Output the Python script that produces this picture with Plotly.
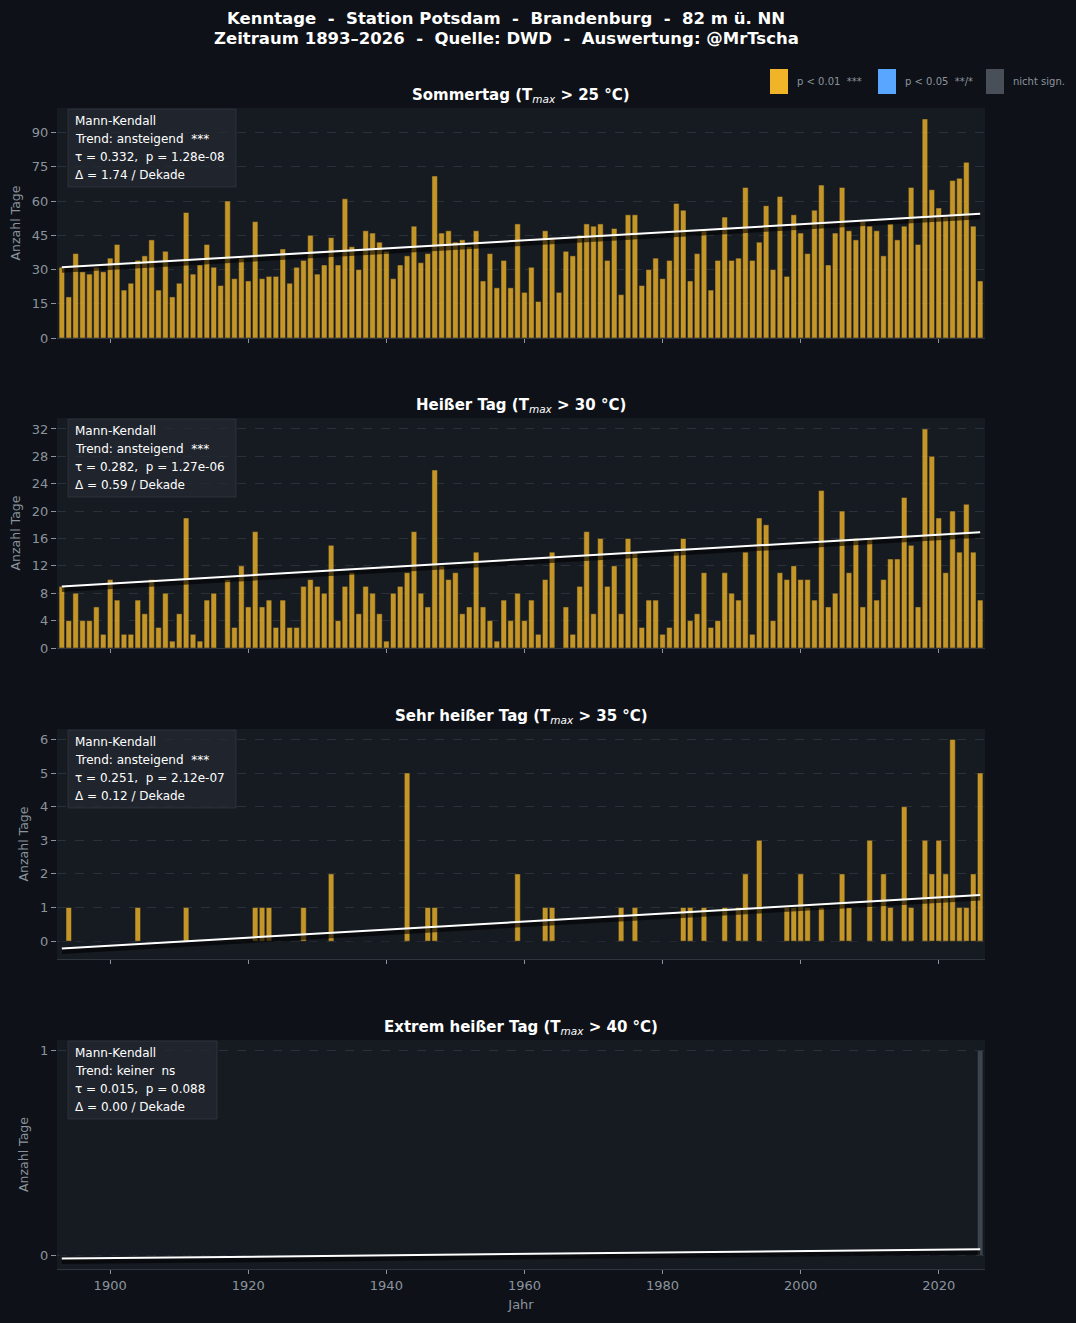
import numpy as np
import plotly.graph_objects as go

# ---------------- data ----------------
years = list(range(1893, 2027))

sommertag = [
    31, 18, 37, 29, 28, 31, 29, 35, 41, 21,
    24, 34, 36, 43, 21, 38, 18, 24, 55, 28,
    32, 41, 31, 23, 60, 26, 35, 25, 51, 26,
    27, 27, 39, 24, 31, 34, 45, 28, 32, 44,
    32, 61, 40, 30, 47, 46, 42, 38, 26, 32,
    36, 49, 33, 37, 71, 46, 47, 42, 43, 40,
    47, 25, 37, 22, 34, 22, 50, 20, 31, 16,
    47, 44, 20, 38, 36, 45, 50, 49, 50, 34,
    48, 19, 54, 54, 23, 30, 35, 26, 34, 59,
    56, 25, 37, 47, 21, 34, 53, 34, 35, 66,
    34, 42, 58, 30, 62, 27, 54, 46, 37, 56,
    67, 32, 46, 66, 47, 43, 51, 49, 47, 36,
    50, 43, 49, 66, 41, 96, 65, 57, 53, 69,
    70, 77, 49, 25,
]

heisser_tag = [
    9, 4, 8, 4, 4, 6, 2, 10, 7, 2,
    2, 7, 5, 10, 3, 8, 1, 5, 19, 2,
    1, 7, 8, 0, 10, 3, 12, 6, 17, 6,
    7, 3, 7, 3, 3, 9, 10, 9, 8, 15,
    4, 9, 11, 5, 9, 8, 5, 1, 8, 9,
    11, 17, 8, 6, 26, 12, 10, 11, 5, 6,
    14, 6, 4, 1, 7, 4, 8, 4, 7, 2,
    10, 14, 0, 6, 2, 9, 17, 5, 16, 9,
    12, 5, 16, 14, 3, 7, 7, 2, 3, 14,
    16, 4, 5, 11, 3, 4, 11, 8, 7, 14,
    2, 19, 18, 4, 11, 10, 12, 10, 10, 7,
    23, 6, 8, 20, 11, 16, 6, 16, 7, 10,
    13, 13, 22, 15, 6, 32, 28, 19, 11, 20,
    14, 21, 14, 7,
]

sehr_heisser_tag = [
    0, 1, 0, 0, 0, 0, 0, 0, 0, 0,
    0, 1, 0, 0, 0, 0, 0, 0, 1, 0,
    0, 0, 0, 0, 0, 0, 0, 0, 1, 1,
    1, 0, 0, 0, 0, 1, 0, 0, 0, 2,
    0, 0, 0, 0, 0, 0, 0, 0, 0, 0,
    5, 0, 0, 1, 1, 0, 0, 0, 0, 0,
    0, 0, 0, 0, 0, 0, 2, 0, 0, 0,
    1, 1, 0, 0, 0, 0, 0, 0, 0, 0,
    0, 1, 0, 1, 0, 0, 0, 0, 0, 0,
    1, 1, 0, 1, 0, 0, 1, 0, 1, 2,
    0, 3, 0, 0, 0, 1, 1, 2, 1, 0,
    1, 0, 0, 2, 1, 0, 0, 3, 0, 2,
    1, 0, 4, 1, 0, 3, 2, 3, 2, 6,
    1, 1, 2, 5,
]

extrem_heisser_tag = [
    0, 0, 0, 0, 0, 0, 0, 0, 0, 0,
    0, 0, 0, 0, 0, 0, 0, 0, 0, 0,
    0, 0, 0, 0, 0, 0, 0, 0, 0, 0,
    0, 0, 0, 0, 0, 0, 0, 0, 0, 0,
    0, 0, 0, 0, 0, 0, 0, 0, 0, 0,
    0, 0, 0, 0, 0, 0, 0, 0, 0, 0,
    0, 0, 0, 0, 0, 0, 0, 0, 0, 0,
    0, 0, 0, 0, 0, 0, 0, 0, 0, 0,
    0, 0, 0, 0, 0, 0, 0, 0, 0, 0,
    0, 0, 0, 0, 0, 0, 0, 0, 0, 0,
    0, 0, 0, 0, 0, 0, 0, 0, 0, 0,
    0, 0, 0, 0, 0, 0, 0, 0, 0, 0,
    0, 0, 0, 0, 0, 0, 0, 0, 0, 0,
    0, 0, 0, 1,
]

# trend line values (at first and last year)
trend_start = [31.0, 9.0, -0.22, -0.015]
trend_end = [54.4, 16.9, 1.37, 0.030]

series = [sommertag, heisser_tag, sehr_heisser_tag, extrem_heisser_tag]
title_names = ["Sommertag", "Heißer Tag", "Sehr heißer Tag", "Extrem heißer Tag"]
title_thresholds = [25, 30, 35, 40]
trend_labels = ["ansteigend", "ansteigend", "ansteigend", "keiner"]
sig_labels = ["***", "***", "***", "ns"]
tau_values = [0.332, 0.282, 0.251, 0.015]
p_labels = ["1.28e-08", "1.27e-06", "2.12e-07", "0.088"]
delta_values = [1.74, 0.59, 0.12, 0.00]
y_dticks = [15, 4, 1, 1]
legend_labels = ["p < 0.01  ***", "p < 0.05  **/*", "nicht sign."]

# ---------------- style ----------------
FIG_W, FIG_H = 1076, 1323
ML, MR, MT, MB = 57, 91, 108, 54
PW = FIG_W - ML - MR
PH = FIG_H - MT - MB
BG = "#0e1117"
PANEL = "#161b22"
GRID = "#2b313a"
TXT = "#8b949e"
GOLD = "#f0b429"
BLUE = "#58a6ff"
GREY = "#484f58"
FONT = "DejaVu Sans"
panel_px = [(108, 338), (418, 648), (729, 959), (1040, 1269)]
box_right_px = [236, 236, 236, 217]


def py2paper(py):
    return (FIG_H - MB - py) / PH


def px2paper(px):
    return (px - ML) / PW


def nb(s):
    return s.replace("  ", "\u00a0\u00a0")


fig = go.Figure()
layout = dict(
    width=FIG_W, height=FIG_H,
    margin=dict(l=ML, r=MR, t=MT, b=MB, pad=0),
    paper_bgcolor=BG, plot_bgcolor=PANEL,
    font=dict(family=FONT, color=TXT, size=12),
    showlegend=False, bargap=0.2,
)
annotations = []
shapes = []

for i, vals in enumerate(series):
    n = i + 1
    xa = "x" if n == 1 else f"x{n}"
    ya = "y" if n == 1 else f"y{n}"
    v = np.array(vals, dtype=float)
    sig = sig_labels[i] != "ns"
    col = GOLD if sig else GREY

    line_x = [years[0], years[-1]]
    line_y = np.array([trend_start[i], trend_end[i]])

    dmin = min(0.0, line_y.min())
    dmax = max(v.max(), line_y.max())
    if dmin < 0:
        span = dmax - dmin
        lo, hi = dmin - 0.05 * span, dmax + 0.05 * span
    else:
        lo, hi = 0.0, dmax * 1.05
    top_px, bot_px = panel_px[i]
    units_per_px = (hi - lo) / (bot_px - top_px)

    fig.add_trace(go.Bar(
        x=years, y=vals, xaxis=xa, yaxis=ya, width=0.8,
        marker=dict(color=col, opacity=0.8, line=dict(color=PANEL, width=0.5)),
    ))
    # shadow of trend line
    fig.add_trace(go.Scatter(
        x=line_x, y=line_y - 3 * units_per_px, xaxis=xa, yaxis=ya, mode="lines",
        line=dict(color="rgba(0,0,0,0.6)", width=5),
    ))
    fig.add_trace(go.Scatter(
        x=line_x, y=line_y, xaxis=xa, yaxis=ya, mode="lines",
        line=dict(color="white", width=2),
    ))

    xkey = "xaxis" if n == 1 else f"xaxis{n}"
    ykey = "yaxis" if n == 1 else f"yaxis{n}"
    layout[xkey] = dict(
        domain=[0, 1], anchor=ya, range=[1892.3, 2026.7],
        tickmode="linear", tick0=1900, dtick=20,
        ticks="outside", ticklen=4, tickcolor=TXT, tickwidth=1,
        showticklabels=(n == 4), showgrid=False, zeroline=False,
        showline=True, linecolor="#30363d", linewidth=1,
        tickfont=dict(size=13, color=TXT),
    )
    if n == 4:
        layout[xkey]["title"] = dict(text="Jahr", font=dict(size=13, color=TXT), standoff=8)
    layout[ykey] = dict(
        domain=[py2paper(bot_px), py2paper(top_px)], anchor=xa, range=[lo, hi],
        tickmode="linear", tick0=0, dtick=y_dticks[i],
        ticks="outside", ticklen=5, tickcolor=TXT, tickwidth=1,
        showgrid=True, gridcolor=GRID, griddash="dash", gridwidth=1,
        zeroline=False, showline=False,
        tickfont=dict(size=13, color=TXT),
        title=dict(text="Anzahl Tage", font=dict(size=12.5, color=TXT), standoff=8),
    )

    # subplot title
    ttl = (f"<b>{title_names[i]} (T</b><sub><i>max</i></sub>"
           f"<b> > {title_thresholds[i]} °C)</b>")
    annotations.append(dict(
        text=ttl, xref=f"{xa} domain", yref=f"{ya} domain",
        x=0.5, y=1, xanchor="center", yanchor="middle", yshift=13, showarrow=False,
        font=dict(size=15, color="white", family=FONT),
    ))

    # stats box
    h = bot_px - top_px
    shapes.append(dict(
        type="rect", xref=f"{xa} domain", yref=f"{ya} domain",
        x0=(68 - ML) / PW, x1=(box_right_px[i] - ML) / PW,
        y0=1 - 79 / h, y1=1 - 1 / h,
        fillcolor="rgba(36,41,49,0.75)", line=dict(color="rgba(60,66,74,0.5)", width=1),
        layer="above",
    ))
    lines = [
        "Mann-Kendall",
        nb(f"Trend: {trend_labels[i]}  {sig_labels[i]}"),
        nb(f"τ = {tau_values[i]:.3f},  p = {p_labels[i]}"),
        f"Δ = {delta_values[i]:.2f} / Dekade",
    ]
    for k, ln in enumerate(lines):
        annotations.append(dict(
            text=ln, xref=f"{xa} domain", yref=f"{ya} domain",
            x=(73 - ML) / PW, y=1, xanchor="left", yanchor="middle",
            yshift=-(13 + 18 * k), showarrow=False,
            font=dict(size=12, color="white", family=FONT),
        ))

# main title
for ln, cy in [("Kenntage  -  Station Potsdam  -  Brandenburg  -  82 m ü. NN", 18),
               ("Zeitraum 1893–2026  -  Quelle: DWD  -  Auswertung: @MrTscha", 39)]:
    annotations.append(dict(
        text="<b>" + nb(ln) + "</b>", xref="paper", yref="paper",
        x=px2paper(506), y=py2paper(cy), xanchor="center", yanchor="middle",
        showarrow=False, font=dict(size=16.5, color="white", family=FONT),
    ))

# legend
for lx, c, lab in zip([770, 878, 986], [GOLD, BLUE, GREY], legend_labels):
    shapes.append(dict(
        type="rect", xref="paper", yref="paper",
        x0=px2paper(lx), x1=px2paper(lx + 18), y0=py2paper(94), y1=py2paper(69),
        fillcolor=c, line=dict(width=0),
    ))
    annotations.append(dict(
        text=nb(lab), xref="paper", yref="paper", x=px2paper(lx + 25), y=py2paper(82),
        xanchor="left", yanchor="middle", showarrow=False,
        font=dict(size=10, color=TXT, family=FONT),
    ))

layout["annotations"] = annotations
layout["shapes"] = shapes
fig.update_layout(**layout)
fig.write_html("out.html")
